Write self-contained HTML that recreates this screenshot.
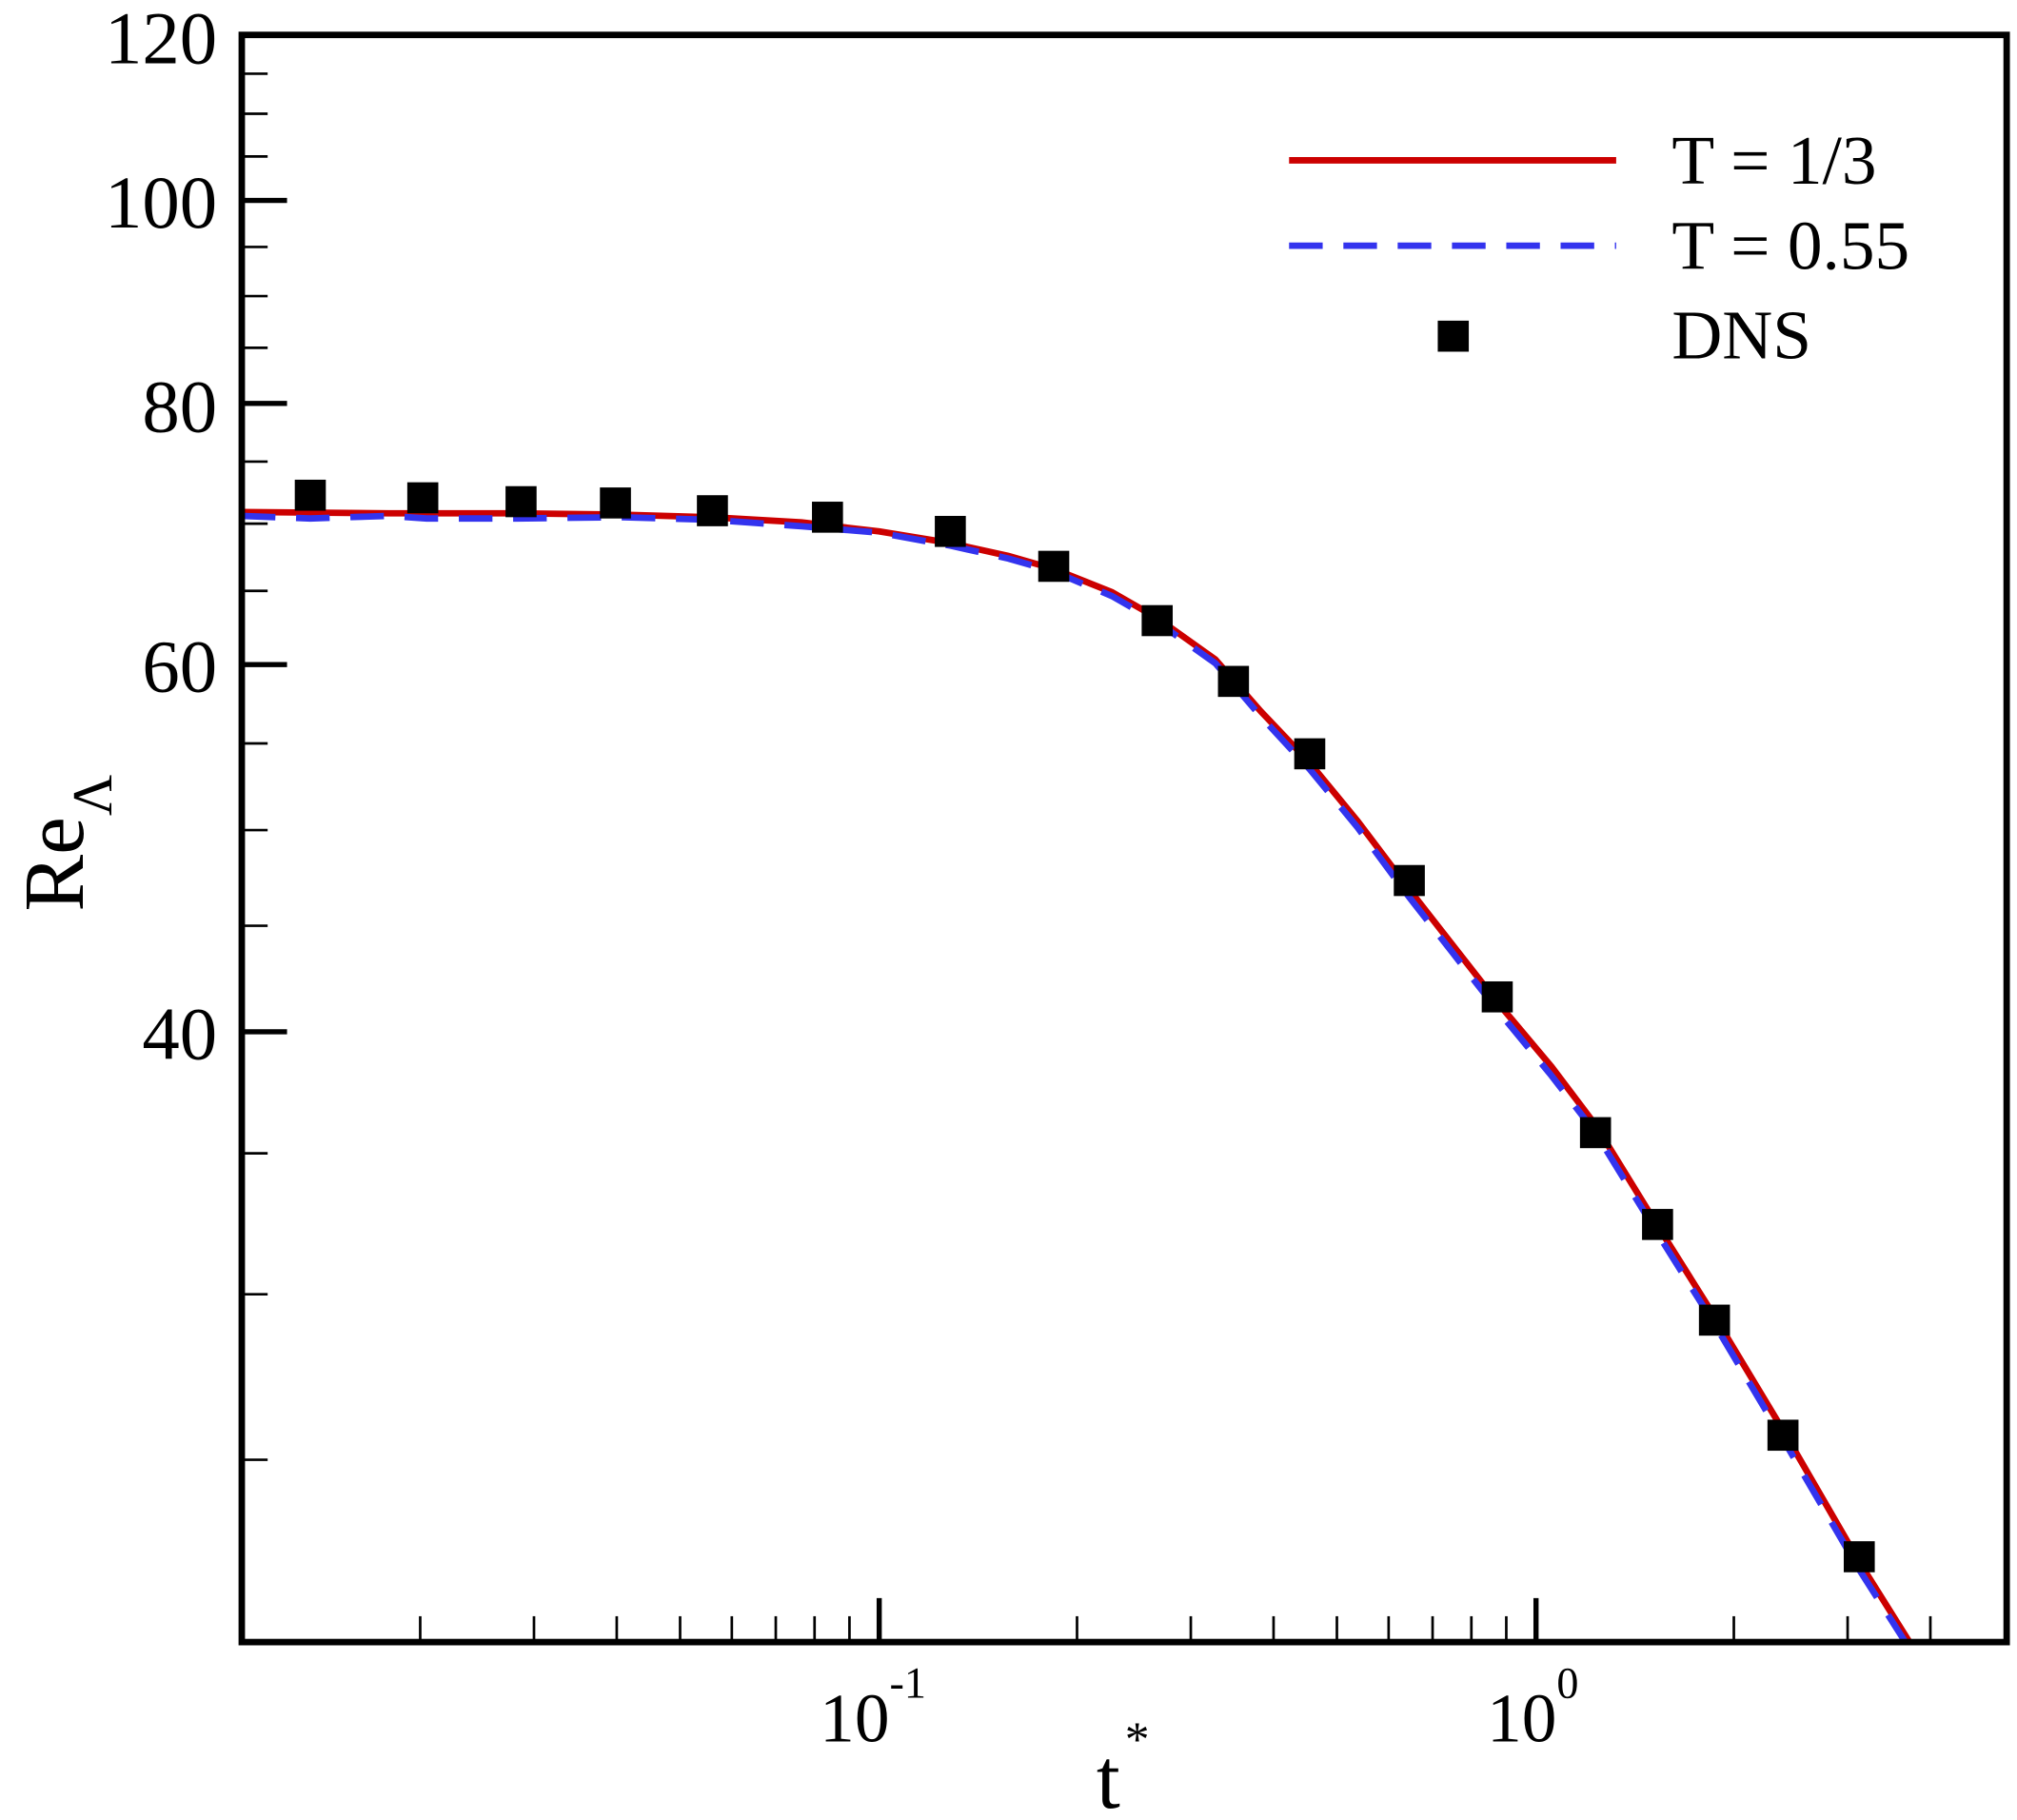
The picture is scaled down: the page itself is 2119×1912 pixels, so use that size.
<!DOCTYPE html>
<html><head><meta charset="utf-8"><style>
html,body{margin:0;padding:0;background:#fff;}
svg{display:block;}
text{font-family:"Liberation Serif",serif;fill:#000;}
</style></head><body>
<svg width="2119" height="1912" viewBox="0 0 1560 1407.6" preserveAspectRatio="none" xmlns="http://www.w3.org/2000/svg">
<rect x="0" y="0" width="1560" height="1408" fill="#fff"/>
<g stroke="#000" stroke-width="2">
<line x1="187" y1="57" x2="207" y2="57"/><line x1="187" y1="88" x2="207" y2="88"/><line x1="187" y1="121" x2="207" y2="121"/>
<line x1="187" y1="191" x2="207" y2="191"/><line x1="187" y1="229" x2="207" y2="229"/><line x1="187" y1="269" x2="207" y2="269"/>
<line x1="187" y1="357" x2="207" y2="357"/><line x1="187" y1="405" x2="207" y2="405"/><line x1="187" y1="457" x2="207" y2="457"/>
<line x1="187" y1="575" x2="207" y2="575"/><line x1="187" y1="642" x2="207" y2="642"/><line x1="187" y1="716" x2="207" y2="716"/>
<line x1="187" y1="892" x2="207" y2="892"/><line x1="187" y1="1001" x2="207" y2="1001"/><line x1="187" y1="1129" x2="207" y2="1129"/>
</g>
<g stroke="#000" stroke-width="4">
<line x1="187" y1="155" x2="222" y2="155"/><line x1="187" y1="312" x2="222" y2="312"/>
<line x1="187" y1="514" x2="222" y2="514"/><line x1="187" y1="798" x2="222" y2="798"/>
</g>
<g stroke="#000" stroke-width="2">
<line x1="325" y1="1270" x2="325" y2="1250"/><line x1="413" y1="1270" x2="413" y2="1250"/><line x1="477" y1="1270" x2="477" y2="1250"/>
<line x1="526" y1="1270" x2="526" y2="1250"/><line x1="566" y1="1270" x2="566" y2="1250"/><line x1="600" y1="1270" x2="600" y2="1250"/>
<line x1="630" y1="1270" x2="630" y2="1250"/><line x1="657" y1="1270" x2="657" y2="1250"/>
<line x1="833" y1="1270" x2="833" y2="1250"/><line x1="921" y1="1270" x2="921" y2="1250"/><line x1="985" y1="1270" x2="985" y2="1250"/>
<line x1="1034" y1="1270" x2="1034" y2="1250"/><line x1="1074" y1="1270" x2="1074" y2="1250"/><line x1="1108" y1="1270" x2="1108" y2="1250"/>
<line x1="1138" y1="1270" x2="1138" y2="1250"/><line x1="1165" y1="1270" x2="1165" y2="1250"/>
<line x1="1341" y1="1270" x2="1341" y2="1250"/><line x1="1429" y1="1270" x2="1429" y2="1250"/><line x1="1493" y1="1270" x2="1493" y2="1250"/>
</g>
<g stroke="#000" stroke-width="4">
<line x1="680" y1="1270" x2="680" y2="1236"/><line x1="1188" y1="1270" x2="1188" y2="1236"/>
</g>
<clipPath id="c"><rect x="187" y="27" width="1365" height="1243"/></clipPath>
<g clip-path="url(#c)" fill="none" stroke-width="5">
<polyline stroke="#cc0000" points="187,396 300,397 400,397 480,398 550,400 620,404 680,411 735,420 780,430 815,440 860,458 895,478 940,510 975,550 1013,590 1050,635 1090,688 1158,775 1200,825 1234,870 1282,948 1326,1018 1379,1106 1438,1208 1480,1275"/>
<polyline stroke="#3333ee" stroke-dasharray="26,16" points="187,399 240,401 300,399 330,401 400,401 480,400 550,402 620,407 680,412 735,422 780,432 815,442 860,461 895,481 940,513 975,554 1013,595 1050,640 1090,694 1158,781 1200,832 1234,876 1282,954 1326,1024 1379,1113 1438,1214 1480,1280"/>
</g>
<g fill="#000">
<rect x="228" y="371" width="24" height="24"/><rect x="315" y="373" width="24" height="24"/><rect x="391" y="376" width="24" height="24"/>
<rect x="464" y="377" width="24" height="24"/><rect x="539" y="383" width="24" height="24"/><rect x="628" y="388" width="24" height="24"/>
<rect x="723" y="399" width="24" height="24"/><rect x="803" y="426" width="24" height="24"/><rect x="883" y="468" width="24" height="24"/>
<rect x="942" y="515" width="24" height="24"/><rect x="1001" y="571" width="24" height="24"/><rect x="1078" y="669" width="24" height="24"/>
<rect x="1146" y="759" width="24" height="24"/><rect x="1222" y="864" width="24" height="24"/><rect x="1270" y="935" width="24" height="24"/>
<rect x="1314" y="1009" width="24" height="24"/><rect x="1367" y="1098" width="24" height="24"/><rect x="1426" y="1192" width="24" height="24"/>
</g>
<rect x="187" y="27" width="1365" height="1243" fill="none" stroke="#000" stroke-width="5"/>
<line x1="997" y1="124" x2="1250" y2="124" stroke="#cc0000" stroke-width="5"/>
<line x1="997" y1="190" x2="1250" y2="190" stroke="#3333ee" stroke-width="5" stroke-dasharray="26,16"/>
<rect x="1112" y="248" width="24" height="24" fill="#000"/>
<text x="1293" y="142" font-size="54">T = 1/3</text>
<text x="1293" y="208" font-size="54">T = 0.55</text>
<text x="1293" y="277" font-size="54">DNS</text>
<g font-size="58" text-anchor="end">
<text x="168" y="49">120</text><text x="168" y="176">100</text><text x="168" y="334">80</text>
<text x="168" y="535">60</text><text x="168" y="819">40</text>
</g>
<text x="634" y="1347" font-size="54">10</text><text x="688" y="1313" font-size="34">-1</text>
<text x="1150" y="1347" font-size="54">10</text><text x="1204" y="1313" font-size="34">0</text>
<text x="848" y="1398" font-size="66">t</text><text x="870" y="1358" font-size="38">*</text>
<g transform="translate(64,705) rotate(-90)">
<text x="0" y="0" font-size="66">Re</text><text x="74" y="22" font-size="44">Λ</text>
</g>
</svg>
</body></html>
